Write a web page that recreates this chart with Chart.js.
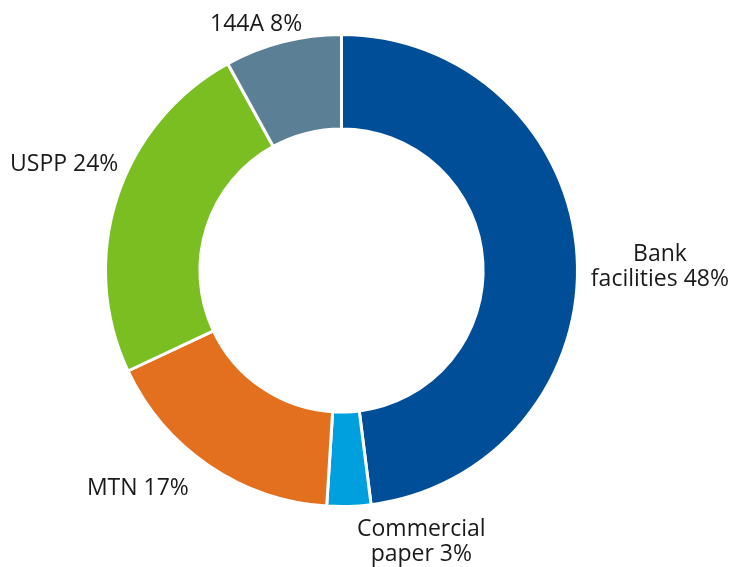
<!DOCTYPE html>
<html>
<head>
<meta charset="utf-8">
<script src="https://cdn.jsdelivr.net/npm/chart.js@4"></script>
<style>
  html, body { margin: 0; padding: 0; background: #ffffff; }
  #wrap { width: 737px; height: 567px; }
</style>
</head>
<body>
<div id="wrap"><canvas id="chart"></canvas></div>
<script>
const categories = ["Bank facilities", "Commercial paper", "MTN", "USPP", "144A"];
const shares = [48, 3, 17, 24, 8];
const colors = ["#004E98", "#00A0DF", "#E3701E", "#7ABE22", "#5B7F95"];

// label placement tweaks (px), one per slice
const labelNudge = [[1, 12], [70, 0], [-35, 3], [11, -28], [-12, 1]];
const labelFont = "23px 'Open Sans'";
const lineGap = 25;
const capHeight = 16.5;

function labelLines(i) {
  const name = categories[i];
  const text = shares[i] + "%";
  const sp = name.indexOf(" ");
  if (sp < 0) return [name + " " + text];
  return [name.slice(0, sp), name.slice(sp + 1) + " " + text];
}

const outsideLabels = {
  id: "outsideLabels",
  afterDatasetsDraw(chart) {
    const ctx = chart.ctx;
    const meta = chart.getDatasetMeta(0);
    ctx.save();
    ctx.font = labelFont;
    ctx.fillStyle = "#1a1a1a";
    ctx.textAlign = "center";
    ctx.textBaseline = "alphabetic";
    meta.data.forEach((arc, i) => {
      const p = arc.getProps(["x", "y", "startAngle", "endAngle", "outerRadius"], true);
      const mid = (p.startAngle + p.endAngle) / 2;
      const r = p.outerRadius + 13;
      const ax = p.x + Math.cos(mid) * r;
      const ay = p.y + Math.sin(mid) * r;
      const lines = labelLines(i);
      const w = Math.max(...lines.map(l => ctx.measureText(l).width));
      const h = capHeight + lineGap * (lines.length - 1);
      const cx = ax + Math.cos(mid) * w / 2 + labelNudge[i][0];
      const cy = ay + Math.sin(mid) * h / 2 + labelNudge[i][1];
      const top = cy - h / 2;
      lines.forEach((l, k) => {
        ctx.fillText(l, cx, top + capHeight + lineGap * k);
      });
    });
    ctx.restore();
  }
};

new Chart(document.getElementById("chart"), {
  type: "doughnut",
  data: {
    labels: categories,
    datasets: [{
      data: shares,
      backgroundColor: colors,
      borderColor: "#ffffff",
      borderWidth: 3,
      hoverOffset: 0
    }]
  },
  options: {
    responsive: true,
    maintainAspectRatio: false,
    animation: false,
    cutout: "60%",
    layout: { padding: { left: 104, right: 158, top: 33, bottom: 59 } },
    plugins: {
      legend: { display: false },
      tooltip: { enabled: false }
    }
  },
  plugins: [outsideLabels]
});
</script>
</body>
</html>
